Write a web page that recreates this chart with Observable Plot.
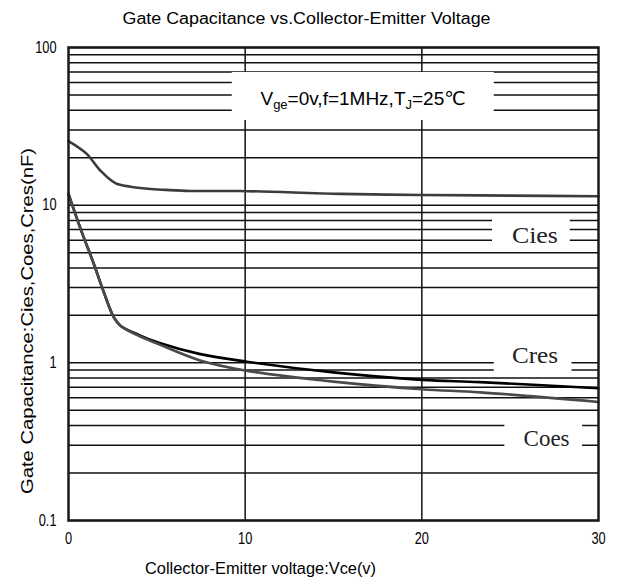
<!DOCTYPE html>
<html>
<head>
<meta charset="utf-8">
<script src="https://cdn.jsdelivr.net/npm/d3@7"></script>
<script src="https://cdn.jsdelivr.net/npm/@observablehq/plot@0.6"></script>
<style>
  html, body { margin: 0; padding: 0; background: #fff; }
</style>
</head>
<body>
<div id="chart"></div>
<script>
// ---- data ----
const titleText = "Gate Capacitance vs.Collector-Emitter Voltage";
const xLabel = "Collector-Emitter voltage:Vce(v)";
const yLabel = "Gate Capacitance:Cies,Coes,Cres(nF)";
const condText = "Vge=0v,f=1MHz,TJ=25℃";
const seriesNames = ["Cies", "Cres", "Coes"];

const ciesVce = [0, 1, 1.8, 2.65, 3.5, 4.5, 5.5, 6.9, 9.7, 15.4, 20, 25, 30];
const ciesC   = [25.5, 21.3, 16.6, 13.8, 13.1, 12.7, 12.5, 12.3, 12.3, 11.8, 11.6, 11.5, 11.4];

const cresVce = [0, 0.7, 1.43, 2.0, 2.56, 2.94, 4.0, 5.2, 7.4, 10, 15, 20, 23.3, 30];
const cresC   = [11.8, 7.0, 4.25, 2.8, 1.95, 1.72, 1.5, 1.33, 1.14, 1.02, 0.87, 0.78, 0.755, 0.69];

const coesVce = [0, 0.7, 1.43, 2.0, 2.56, 2.94, 4.0, 5.2, 7.4, 10, 15, 20, 23.3, 30];
const coesC   = [11.8, 7.0, 4.25, 2.8, 1.95, 1.72, 1.48, 1.3, 1.04, 0.895, 0.76, 0.68, 0.65, 0.565];

const xTicks = [0, 10, 20, 30];
const yTicks = [0.1, 1, 10, 100];
const yMinorFactors = [1, 2, 3, 4, 5, 6, 7, 8, 9];
const xGrid = [10, 20];

// ---- build tables ----
const rows = [
  ...ciesVce.map((v, i) => ({series: "Cies", vce: v, c: ciesC[i]})),
  ...cresVce.map((v, i) => ({series: "Cres", vce: v, c: cresC[i]})),
  ...coesVce.map((v, i) => ({series: "Coes", vce: v, c: coesC[i]}))
];
const yGrid = [];
for (const d of [0.1, 1, 10]) for (const f of yMinorFactors) yGrid.push(+(d * f).toPrecision(3));
yGrid.push(100);

const sans = "'Liberation Sans', Arial, 'DejaVu Sans', sans-serif";
const serif = "'Liberation Serif', 'DejaVu Serif', serif";
const gridStroke = "#111";
const tickLabels = new Set([...xTicks, ...yTicks].map(String));

const plot = Plot.plot({
  width: 619,
  height: 583,
  marginTop: 47,
  marginRight: 21,
  marginBottom: 63,
  marginLeft: 68,
  style: {background: "#fff", fontFamily: sans, fontSize: "16px", color: "#000"},
  x: {domain: [0, 30], label: null},
  y: {type: "log", domain: [0.1, 100], label: null},
  marks: [
    Plot.ruleY(yGrid, {stroke: gridStroke, strokeWidth: 1.5}),
    Plot.ruleX(xGrid, {stroke: gridStroke, strokeWidth: 1.5}),
    Plot.axisX({ticks: xTicks, tickSize: 0, tickPadding: 12, fontSize: 16, fontFamily: sans, tickFormat: d => String(d), label: null}),
    Plot.axisY({ticks: yTicks, tickSize: 0, tickPadding: 12, fontSize: 16, fontFamily: sans, tickFormat: d => String(d), label: null}),
    // white boxes behind annotations
    Plot.rect([{x1: 9.27, x2: 24.1, y1: 34.4, y2: 69.4}], {x1: "x1", x2: "x2", y1: "y1", y2: "y2", fill: "#fff"}),
    Plot.rect([{x1: 24.0, x2: 28.4, y1: 5.39, y2: 8.73}], {x1: "x1", x2: "x2", y1: "y1", y2: "y2", fill: "#fff"}),
    Plot.rect([{x1: 24.1, x2: 28.5, y1: 0.857, y2: 1.387}], {x1: "x1", x2: "x2", y1: "y1", y2: "y2", fill: "#fff"}),
    Plot.rect([{x1: 24.7, x2: 29.1, y1: 0.259, y2: 0.444}], {x1: "x1", x2: "x2", y1: "y1", y2: "y2", fill: "#fff"}),
    // curves
    Plot.line(rows.filter(d => d.series === "Cies"), {x: "vce", y: "c", stroke: "#3c3c3c", strokeWidth: 2.6, curve: "catmull-rom"}),
    Plot.line(rows.filter(d => d.series === "Cres"), {x: "vce", y: "c", stroke: "#000", strokeWidth: 2.6, curve: "catmull-rom"}),
    Plot.line(rows.filter(d => d.series === "Coes"), {x: "vce", y: "c", stroke: "#4a4a4a", strokeWidth: 2.6, curve: "catmull-rom"}),
    // annotations
    Plot.text([condText], {x: 16.67, y: 48.2, dy: 1, fontSize: 19, fontFamily: sans, fill: "#000"}),
    Plot.text([seriesNames[0]], {x: 26.4, y: 6.43, fontSize: 24, fontFamily: serif, fill: "#222"}),
    Plot.text([seriesNames[1]], {x: 26.4, y: 1.114, fontSize: 24, fontFamily: serif, fill: "#222"}),
    Plot.text([seriesNames[2]], {x: 27.06, y: 0.332, fontSize: 24, fontFamily: serif, fill: "#222"}),
    // titles
    Plot.text([titleText], {frameAnchor: "top", lineAnchor: "middle", textAnchor: "middle", dx: -27, dy: -29, fontSize: 16, fontFamily: sans, fill: "#000"}),
    Plot.text([xLabel], {frameAnchor: "bottom", lineAnchor: "middle", textAnchor: "middle", dx: -73, dy: 48, fontSize: 16, fontFamily: sans, fill: "#000"}),
    Plot.text([yLabel], {frameAnchor: "left", lineAnchor: "middle", textAnchor: "middle", dx: -41, dy: 37, rotate: -90, fontSize: 16, fontFamily: sans, fill: "#000"}),
    Plot.frame({stroke: "#1a1a1a", strokeWidth: 2.5})
  ]
});

document.getElementById("chart").appendChild(plot);

// subscripts for the condition label, and condensed widths like the reference
const ns = "http://www.w3.org/2000/svg";
const fit = (t, len) => { t.setAttribute("textLength", len); t.setAttribute("lengthAdjust", "spacingAndGlyphs"); };
plot.querySelectorAll("text").forEach(t => {
  const s = t.textContent;
  if (s === condText) {
    t.textContent = "";
    const parts = [["V", 0, null], ["ge", 4, "13px"], ["=0v,f=1MHz,T", -4, null], ["J", 4, "13px"], ["=25℃", -4, null]];
    for (const [str, dy, fs] of parts) {
      const sp = document.createElementNS(ns, "tspan");
      sp.textContent = str;
      if (dy) sp.setAttribute("dy", dy);
      if (fs) sp.setAttribute("font-size", fs);
      t.appendChild(sp);
    }
  } else if (s === titleText) fit(t, 368);
  else if (s === xLabel) fit(t, 231);
  else if (s === yLabel) fit(t, 346);
  else if (seriesNames.includes(s)) fit(t, 46);
  else if (tickLabels.has(s)) {
    t.style.fontSize = "16px";
    t.style.fontFamily = sans;
    fit(t, t.getComputedTextLength() * 0.8);
  }
});
</script>
</body>
</html>
